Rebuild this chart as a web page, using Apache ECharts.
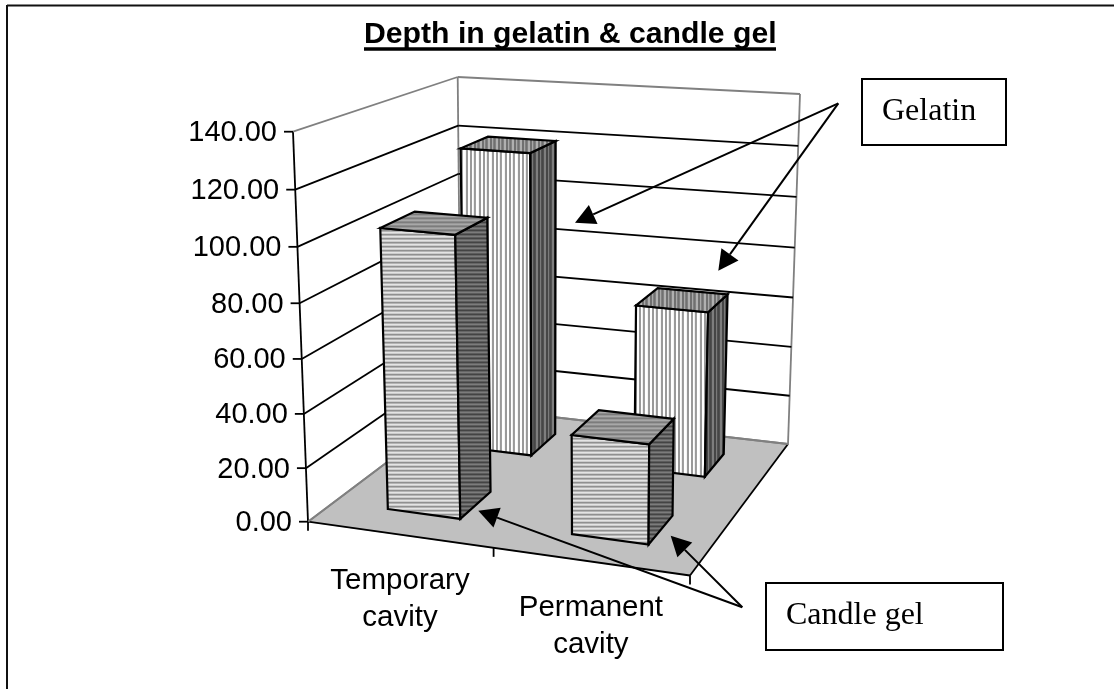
<!DOCTYPE html>
<html>
<head>
<meta charset="utf-8">
<title>Depth in gelatin &amp; candle gel</title>
<script src="https://cdn.jsdelivr.net/npm/echarts@6/dist/echarts.min.js"></script>
<style>
html,body{margin:0;padding:0;background:#fff}
#container{width:1114px;height:689px}
</style>
</head>
<body>
<div id="container"></div>
<script>
var categories = ['Temporary\ncavity', 'Permanent\ncavity'];
var candleGel = [104, 36.5];
var gelatin = [120, 64.5];
var valueTicks = [0, 20, 40, 60, 80, 100, 120, 140];
var tickLabels = ['0.00', '20.00', '40.00', '60.00', '80.00', '100.00', '120.00', '140.00'];

// screen corners of the 3d box, [x, y, w]  (u = category, d = depth, t = value)
var box = {
	fl0: [308, 521.7, 1],     fr0: [690, 575.5, 0.945],
	bl0: [461, 406.5, 1.17],  br0: [788, 444, 1.115],
	fl1: [293, 131.7, 0.955], fr1: [694, 163, 0.9],
	bl1: [457.7, 77, 1.125],  br1: [800, 94, 1.07]
};
var barHalf = 0.1;
var candleRow = [0.152, 0.36];
var gelatinRow = [0.665, 0.858];

function project(u, d, t){
	var list = [
		[box.fl0, (1-u)*(1-d)*(1-t)], [box.fr0, u*(1-d)*(1-t)],
		[box.bl0, (1-u)*d*(1-t)],     [box.br0, u*d*(1-t)],
		[box.fl1, (1-u)*(1-d)*t],     [box.fr1, u*(1-d)*t],
		[box.bl1, (1-u)*d*t],         [box.br1, u*d*t]
	];
	var x = 0, y = 0, w = 0;
	list.forEach(function(c){
		var k = c[1]*c[0][2];
		x += k*c[0][0];
		y += k*c[0][1];
		w += k;
	});
	return [x/w, y/w];
}

// stripes for the bar faces
function stripes(colors, vertical){
	var c = document.createElement('canvas');
	c.width = vertical ? colors.length : 1;
	c.height = vertical ? 1 : colors.length;
	var ctx = c.getContext('2d');
	colors.forEach(function(col, i){
		ctx.fillStyle = col;
		if(vertical) ctx.fillRect(i, 0, 1, 1);
		else ctx.fillRect(0, i, 1, 1);
	});
	return {image: c, repeat: 'repeat'};
}
var candleFaces = {
	front: stripes(['#e4e4e4', '#cccccc', '#909090', '#b4b4b4'], false),
	side: stripes(['#7c7c7c', '#5c5c5c', '#444444', '#666666'], false),
	top: stripes(['#a8a8a8', '#8c8c8c', '#7c7c7c', '#989898'], false)
};
var gelatinFaces = {
	front: stripes(['#ffffff', '#ffffff', '#999999', '#999999', '#ffffff', '#eeeeee', '#999999', '#a0a0a0', '#ffffff', '#ffffff', '#f4f4f4', '#999999', '#999999'], true),
	side: stripes(['#7e7e7e', '#7e7e7e', '#464646', '#464646', '#7a7a7a', '#505050', '#464646', '#505050'], true),
	top: stripes(['#b0b0b0', '#b0b0b0', '#707070', '#707070', '#a8a8a8', '#808080', '#707070', '#808080'], true)
};

function poly(points, fill, stroke, lineWidth){
	return {
		type: 'polygon',
		shape: {points: points},
		style: {fill: fill, stroke: stroke || '#000', lineWidth: lineWidth || 2.2, lineJoin: 'miter'}
	};
}
function line(a, b, color, lineWidth){
	return {
		type: 'line',
		shape: {x1: a[0], y1: a[1], x2: b[0], y2: b[1]},
		style: {stroke: color, lineWidth: lineWidth || 1.8}
	};
}

function barItem(row, faces){
	return function(params, api){
		var cs = params.coordSys;
		var p = api.coord([api.value(0), api.value(1)]);
		var u = (p[0] - cs.x)/cs.width;
		var t = (cs.y + cs.height - p[1])/cs.height;
		var u0 = u - barHalf, u1 = u + barHalf, d0 = row[0], d1 = row[1];
		return {
			type: 'group',
			children: [
				poly([project(u0,d0,0), project(u1,d0,0), project(u1,d0,t), project(u0,d0,t)], faces.front),
				poly([project(u1,d0,0), project(u1,d1,0), project(u1,d1,t), project(u1,d0,t)], faces.side),
				poly([project(u0,d0,t), project(u1,d0,t), project(u1,d1,t), project(u0,d1,t)], faces.top)
			]
		};
	};
}

function wallItem(params, api){
	var cs = params.coordSys;
	var p = api.coord([0, api.value(0)]);
	var t = (cs.y + cs.height - p[1])/cs.height;
	var color = (t >= 1 || t <= 0) ? '#808080' : '#000';
	var a = project(0,0,t), b = project(0,1,t), c = project(1,1,t);
	return {
		type: 'group',
		children: [
			line(a, b, color),
			line(b, c, color),
			line([a[0]-9, a[1]], a, '#000'),
			{
				type: 'text',
				x: a[0]-16, y: a[1]+1.5,
				style: {
					text: tickLabels[params.dataIndex], align: 'right', verticalAlign: 'middle',
					font: '29px "Liberation Sans"', fill: '#000'
				}
			}
		]
	};
}

function floorItem(params, api){
	var fl = project(0,0,0), fr = project(1,0,0), br = project(1,1,0), bl = project(0,1,0);
	return {
		type: 'group',
		children: [
			poly([fl, fr, br, bl], '#c0c0c0', '#c0c0c0', 1),
			line(bl, project(0,1,1), '#808080'),
			line(br, project(1,1,1), '#808080'),
			line(fl, bl, '#808080'),
			line(bl, br, '#808080'),
			line(fl, project(0,0,1), '#000'),
			line(fl, fr, '#000'),
			line(fr, br, '#000')
		]
	};
}

function categoryItem(params, api){
	var cs = params.coordSys;
	var p = api.coord([api.value(0), 0]);
	var u = (p[0] - cs.x)/cs.width;
	var a = project(u,0,0);
	return {
		type: 'text',
		x: a[0]+0.5, y: a[1]+64.5,
		style: {
			text: categories[params.dataIndex], align: 'center', verticalAlign: 'middle',
			font: '29.5px "Liberation Sans"', lineHeight: 37, fill: '#000'
		}
	};
}

function bottomTickItem(params, api){
	var a = project(api.value(0), 0, 0);
	return line(a, [a[0], a[1]+9], '#000');
}

function arrow(from, tip){
	var dx = from[0]-tip[0], dy = from[1]-tip[1];
	var len = Math.sqrt(dx*dx+dy*dy);
	dx /= len; dy /= len;
	var mx = tip[0]+dx*20, my = tip[1]+dy*20;
	return [
		{type:'line', z:50, shape:{x1:from[0], y1:from[1], x2:mx, y2:my}, style:{stroke:'#000', lineWidth:2}},
		{type:'polygon', z:50, shape:{points:[tip, [mx-dy*10.5, my+dx*10.5], [mx+dy*10.5, my-dx*10.5]]}, style:{fill:'#000'}}
	];
}

var graphics = [
	{type:'line', z:1, shape:{x1:7, y1:5.5, x2:1114, y2:5.5}, style:{stroke:'#111', lineWidth:2}},
	{type:'line', z:1, shape:{x1:7, y1:5, x2:7, y2:689}, style:{stroke:'#111', lineWidth:2}},
	{type:'rect', z:50, shape:{x:364, y:47.3, width:412, height:3.4}, style:{fill:'#000'}},
	{type:'rect', z:50, shape:{x:862, y:79, width:144, height:66}, style:{fill:'#fff', stroke:'#000', lineWidth:2}},
	{type:'text', z:51, x:882, y:112, style:{text:'Gelatin', font:'32px "Liberation Serif"', fill:'#000', verticalAlign:'middle'}},
	{type:'rect', z:50, shape:{x:766, y:583, width:237, height:67}, style:{fill:'#fff', stroke:'#000', lineWidth:2}},
	{type:'text', z:51, x:786, y:616, style:{text:'Candle gel', font:'32px "Liberation Serif"', fill:'#000', verticalAlign:'middle'}}
].concat(
	arrow([838.3,103.3], [575,222.7]),
	arrow([838.3,103.3], [718.3,270.7]),
	arrow([742.3,607.3], [478.3,510.7]),
	arrow([742.3,607.3], [670.7,535.7])
);

function barData(values){
	return values.map(function(v, i){ return [i, v]; });
}

var myChart = echarts.init(document.getElementById('container'), null, {renderer: 'canvas'});
var option = {
	animation: false,
	backgroundColor: '#fff',
	title: {
		text: 'Depth in gelatin & candle gel',
		left: 359,
		top: 15,
		textStyle: {fontFamily: 'Liberation Sans', fontSize: 30.2, fontWeight: 'bold', color: '#000'}
	},
	tooltip: {show: false},
	// flat grid only gives the scales, project() bends it into the box
	grid: {left: 300, top: 130, width: 400, height: 390, show: false},
	xAxis: {type: 'category', data: categories, show: false},
	yAxis: {type: 'value', min: 0, max: 140, interval: 20, show: false},
	graphic: graphics,
	series: [
		{type: 'custom', name: 'floor', data: [[0]], renderItem: floorItem, z: 2, silent: true},
		{type: 'custom', name: 'grid', data: valueTicks.map(function(v){ return [v]; }), renderItem: wallItem, encode: {y: 0}, z: 3, silent: true},
		{type: 'custom', name: 'ticks', data: [[0], [0.5], [1]], renderItem: bottomTickItem, z: 3, silent: true},
		{type: 'custom', name: 'labels', data: barData(candleGel), renderItem: categoryItem, z: 3, silent: true},
		{type: 'custom', name: 'Gelatin', data: barData(gelatin), renderItem: barItem(gelatinRow, gelatinFaces), z: 4},
		{type: 'custom', name: 'Candle gel', data: barData(candleGel), renderItem: barItem(candleRow, candleFaces), z: 5}
	]
};
myChart.setOption(option);
</script>
</body>
</html>
